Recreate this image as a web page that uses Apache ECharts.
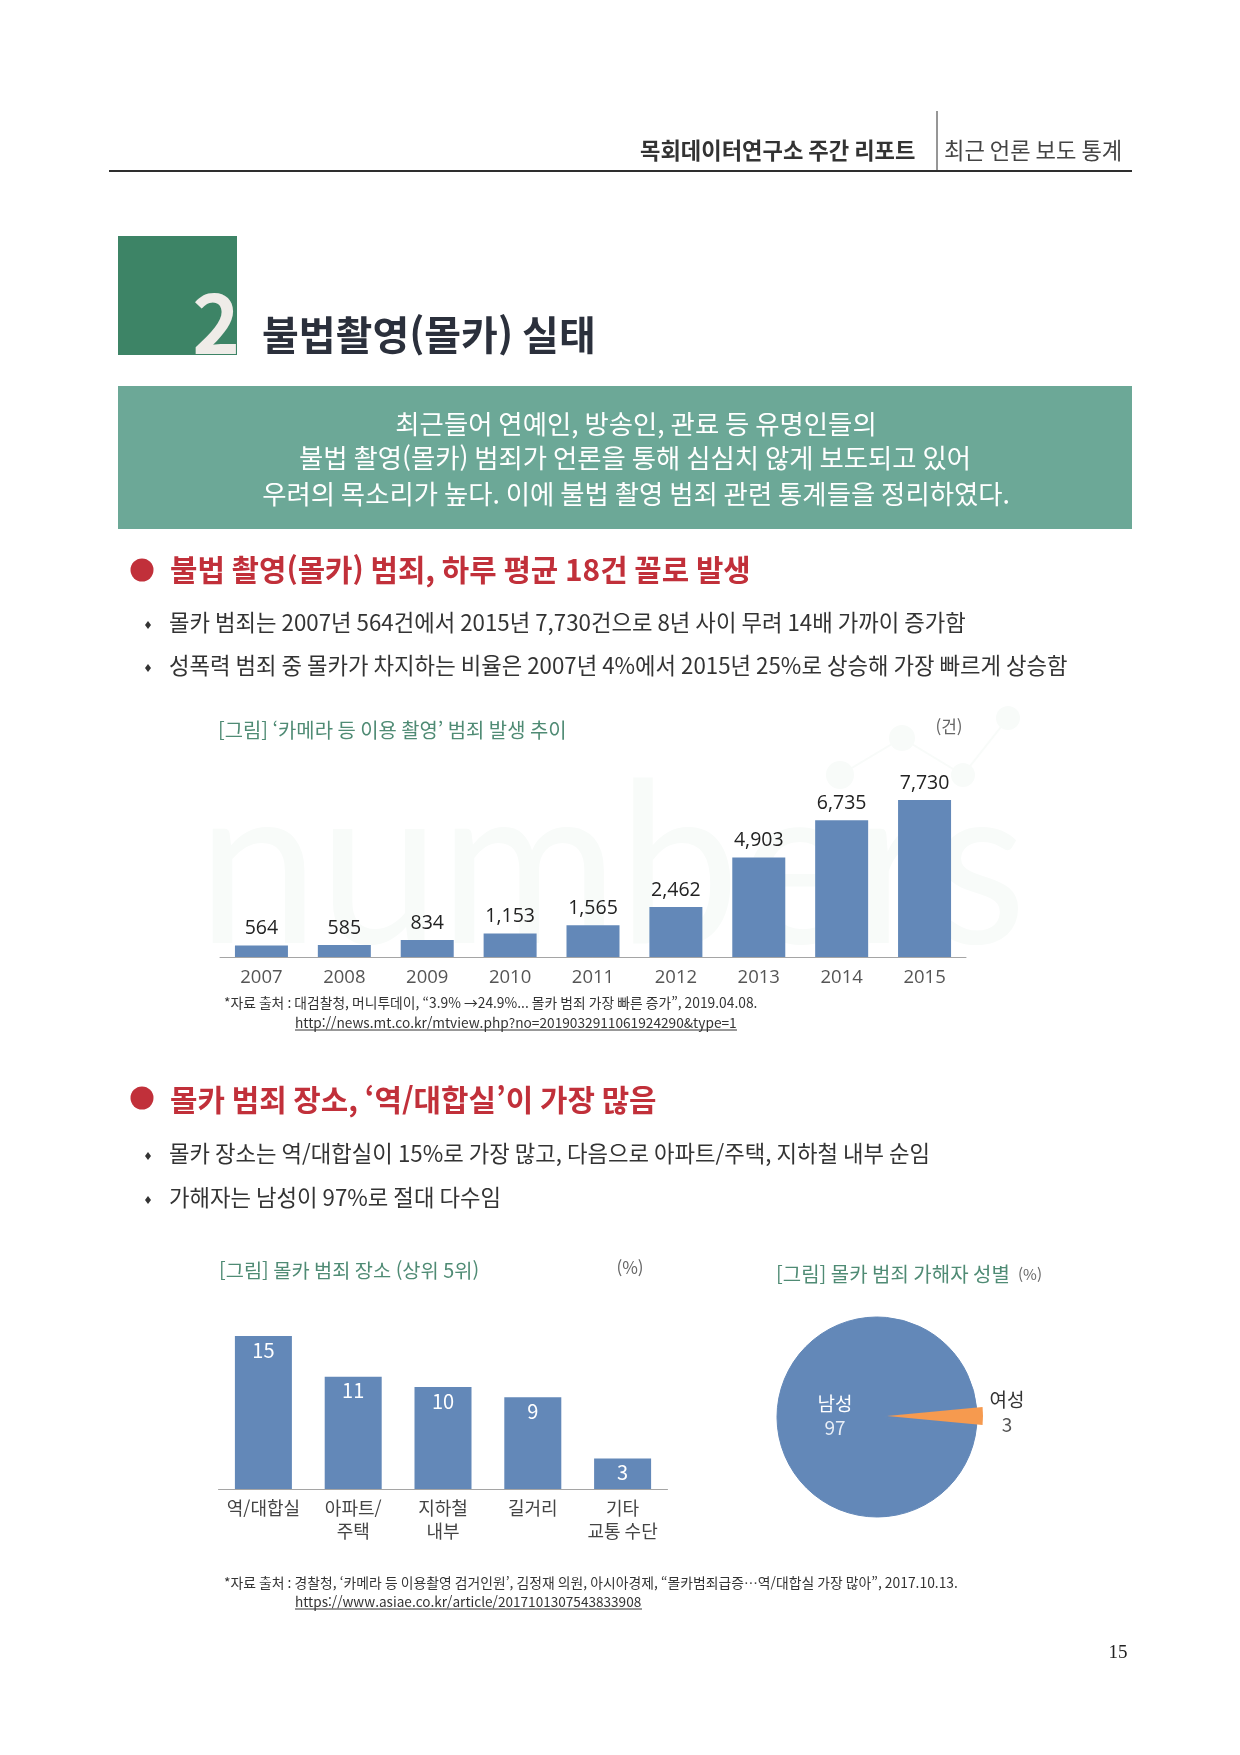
<!DOCTYPE html>
<html lang="ko"><head><meta charset="utf-8"><title>불법촬영(몰카) 실태</title>
<style>html,body{margin:0;padding:0;background:#fff}#c{width:1240px;height:1755px}</style>
<script src="https://cdn.jsdelivr.net/npm/echarts@6/dist/echarts.min.js"></script></head>
<body><div id="c"></div><script>
const years = ['2007','2008','2009','2010','2011','2012','2013','2014','2015'];
const caseCounts = [564,585,834,1153,1565,2462,4903,6735,7730];
const places = ['역/대합실','아파트/\n주택','지하철\n내부','길거리','기타\n교통 수단'];
const placeShares = [15,11,10,9,3];
const genders = ['남성','여성'];
const genderShares = [97,3];

const FONT = '"Noto Sans CJK KR","Noto Sans",sans-serif';
const NUMFONT = '"Open Sans","Noto Sans",sans-serif';
const BLUE = '#6388B8', ORANGE = '#F69A4F', RED = '#C1303A', GREEN = '#4F8B74', INK = '#2B303C';

function T(text,x,y,size,fill,weight,align){
  return {type:'text',x,y,silent:true,style:{text,fontFamily:FONT,fontSize:size,fontWeight:weight||'normal',fill,
    align:align||'left',verticalAlign:'middle'}};
}
function R(x,y,w,h,fill){return {type:'rect',silent:true,shape:{x,y,width:w,height:h},style:{fill}};}
function C(cx,cy,r,fill){return {type:'circle',silent:true,shape:{cx,cy,r},style:{fill}};}
function L(x1,y1,x2,y2,stroke,w){return {type:'line',silent:true,shape:{x1,y1,x2,y2},style:{stroke,lineWidth:w}};}
function D(cx,cy){return {type:'polygon',silent:true,shape:{points:[[cx,cy-4],[cx+3,cy],[cx,cy+4],[cx-3,cy]]},style:{fill:'#333'}};}

const wm = '#F8FBF9';
const page = [
  // watermark
  {type:'text',x:190,y:870,scaleX:0.96,originX:190,originY:870,silent:true,style:{text:'numbers',fontFamily:'Lato,"Noto Sans",sans-serif',fontSize:226,fontWeight:'normal',fill:wm,align:'left',verticalAlign:'middle'}},
  L(840,775,902,738,wm,2), L(902,738,963,775,wm,2), L(963,775,1008,718,wm,2),
  C(840,775,14,wm),C(902,738,13,wm),C(963,775,12,wm),C(1008,718,12,wm),
  // header
  L(109,171,1132,171,'#2E2E2E',2),
  L(937,111,937,171,'#2E2E2E',1),
  T('목회데이터연구소 주간 리포트',640,151,22.2,'#333','bold'),
  T('최근 언론 보도 통계',944,151,22.2,'#444'),
  // section title
  R(118,236,119,119,'#3D8466'),
  T('2',240,323,81,'#EFECE8','bold','right'),
  T('불법촬영(몰카) 실태',262,335,40,INK,'bold'),
  // banner
  R(118,386,1014,143,'#6CA897'),
  T('최근들어 연예인, 방송인, 관료 등 유명인들의',636,424,26.4,'#fff','normal','center'),
  T('불법 촬영(몰카) 범죄가 언론을 통해 심심치 않게 보도되고 있어',635,458,26.4,'#fff','normal','center'),
  T('우려의 목소리가 높다. 이에 불법 촬영 범죄 관련 통계들을 정리하였다.',636,494,26.4,'#fff','normal','center'),
  // first section
  C(142,570,11.5,RED),
  T('불법 촬영(몰카) 범죄, 하루 평균 18건 꼴로 발생',170,570,29.8,RED,'bold'),
  D(148,625), T('몰카 범죄는 2007년 564건에서 2015년 7,730건으로 8년 사이 무려 14배 가까이 증가함',169,623,22.3,'#333'),
  D(148,668), T('성폭력 범죄 중 몰카가 차지하는 비율은 2007년 4%에서 2015년 25%로 상승해 가장 빠르게 상승함',169,666,22.3,'#333'),
  T('[그림] ‘카메라 등 이용 촬영’ 범죄 발생 추이',218,730,19.9,GREEN),
  T('(건)',949,727,17,'#666','normal','center'),
  T('*자료 출처 : 대검찰청, 머니투데이, “3.9% →24.9%... 몰카 범죄 가장 빠른 증가”, 2019.04.08.',224,1003,13.8,'#333'),
  T('http://news.mt.co.kr/mtview.php?no=2019032911061924290&type=1',295,1023,13.7,'#333'),
  L(295,1030,737,1030,'#333',1),
  // second section
  C(142,1098,11.5,RED),
  T('몰카 범죄 장소, ‘역/대합실’이 가장 많음',170,1100,29.85,RED,'bold'),
  D(148,1156), T('몰카 장소는 역/대합실이 15%로 가장 많고, 다음으로 아파트/주택, 지하철 내부 순임',169,1154,22.3,'#333'),
  D(148,1200), T('가해자는 남성이 97%로 절대 다수임',169,1198,22.3,'#333'),
  T('[그림] 몰카 범죄 장소 (상위 5위)',219,1270,19.8,GREEN),
  T('(%)',630,1268,17,'#666','normal','center'),
  T('[그림] 몰카 범죄 가해자 성별',776,1274,20,GREEN),
  T('(%)',1030,1274,15,'#666','normal','center'),
  T('*자료 출처 : 경찰청, ‘카메라 등 이용촬영 검거인원’, 김정재 의원, 아시아경제, “몰카범죄급증…역/대합실 가장 많아”, 2017.10.13.',224,1583,13.85,'#333'),
  T('https://www.asiae.co.kr/article/2017101307543833908',295,1602,13.6,'#333'),
  L(295,1609,642,1609,'#333',1),
  {type:'text',x:1118,y:1653,silent:true,style:{text:'15',fontFamily:'"Liberation Serif",serif',fontSize:19,fill:'#222',align:'center',verticalAlign:'middle'}}
];

const axisLine = {show:true,lineStyle:{color:'#A5A5A5',width:1}};
const chart = echarts.init(document.getElementById('c'),null,{width:1240,height:1755});
chart.setOption({
  animation:false,
  backgroundColor:'#fff',
  graphic:{elements:page},
  grid:[
    {left:220,width:746,top:794.5,height:162.5},
    {left:218.5,width:449,top:1336,height:153}
  ],
  xAxis:[
    {type:'category',gridIndex:0,data:years,axisLine,axisTick:{show:false},
     axisLabel:{margin:11,fontFamily:NUMFONT,fontSize:18.5,color:'#555'}},
    {type:'category',gridIndex:1,data:places,axisLine,axisTick:{show:false},
     axisLabel:{margin:8,interval:0,fontFamily:FONT,fontSize:18,lineHeight:22.5,color:'#444'}}
  ],
  yAxis:[
    {type:'value',gridIndex:0,min:0,max:8000,show:false},
    {type:'value',gridIndex:1,min:0,max:15,show:false}
  ],
  series:[
    {type:'bar',xAxisIndex:0,yAxisIndex:0,data:caseCounts,barWidth:53,itemStyle:{color:BLUE},
     label:{show:true,position:'top',distance:7,fontFamily:NUMFONT,fontSize:19.5,color:'#222',
       formatter:p=>p.value.toLocaleString('en-US')}},
    {type:'bar',xAxisIndex:1,yAxisIndex:1,data:placeShares,barWidth:57,itemStyle:{color:BLUE},
     label:{show:true,position:'insideTop',distance:4,fontFamily:FONT,fontSize:20,color:'#fff'}},
    {type:'pie',center:[877,1417],radius:100,startAngle:5.4,clockwise:true,silent:true,
     data:[
       {name:genders[1],value:genderShares[1],itemStyle:{color:BLUE,borderColor:BLUE,borderWidth:1},label:{show:false}},
       {name:genders[0],value:genderShares[0],itemStyle:{color:BLUE,borderColor:BLUE,borderWidth:1},
        label:{show:true,position:'inside',offset:[11,-1],formatter:'{n|{b}}\n{v|{c}}',
          rich:{n:{fontFamily:FONT,fontSize:19,color:'#fff',lineHeight:24},v:{fontFamily:FONT,fontSize:19,color:'#E8EEF6',lineHeight:24}}}}
     ],labelLine:{show:false}},
    {type:'pie',center:[887,1416],radius:96,startAngle:5.4,clockwise:true,silent:true,z:3,
     data:[
       {name:genders[1],value:genderShares[1],itemStyle:{color:ORANGE},
        label:{show:true,position:'inside',offset:[69,-4],formatter:'{n|{b}}\n{v|{c}}',
          rich:{n:{fontFamily:FONT,fontSize:19,color:'#333',lineHeight:25},v:{fontFamily:FONT,fontSize:19,color:'#555',lineHeight:25}}}},
       {name:genders[0],value:genderShares[0],itemStyle:{color:'rgba(0,0,0,0)'},label:{show:false}}
     ],labelLine:{show:false}}
  ]
});
</script></body></html>
